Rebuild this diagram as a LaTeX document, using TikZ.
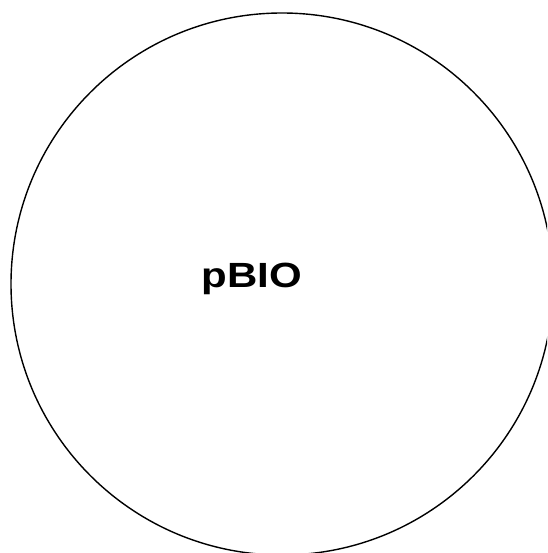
\documentclass[tikz,border=0pt]{standalone}
\usepackage{fontspec}
\setmainfont{Liberation Sans}
\begin{document}
\begin{tikzpicture}[x=1pt,y=-1pt,
  ringstyle/.style={circle,draw=black,line width=1.4pt,minimum size=542pt,inner sep=0pt},
  labelstyle/.style={font=\fontsize{35}{40}\selectfont\bfseries,inner sep=0pt,anchor=base,xscale=1.2}]
\useasboundingbox (0,0) rectangle (547,553);
\clip (0,0) rectangle (547,553);
\fill[white] (0,0) rectangle (547,553);
\node[ringstyle] (ring) at (282,284) {};
\node[labelstyle] (lbl) at (251.5,287) {pBIO};
\end{tikzpicture}
\end{document}
